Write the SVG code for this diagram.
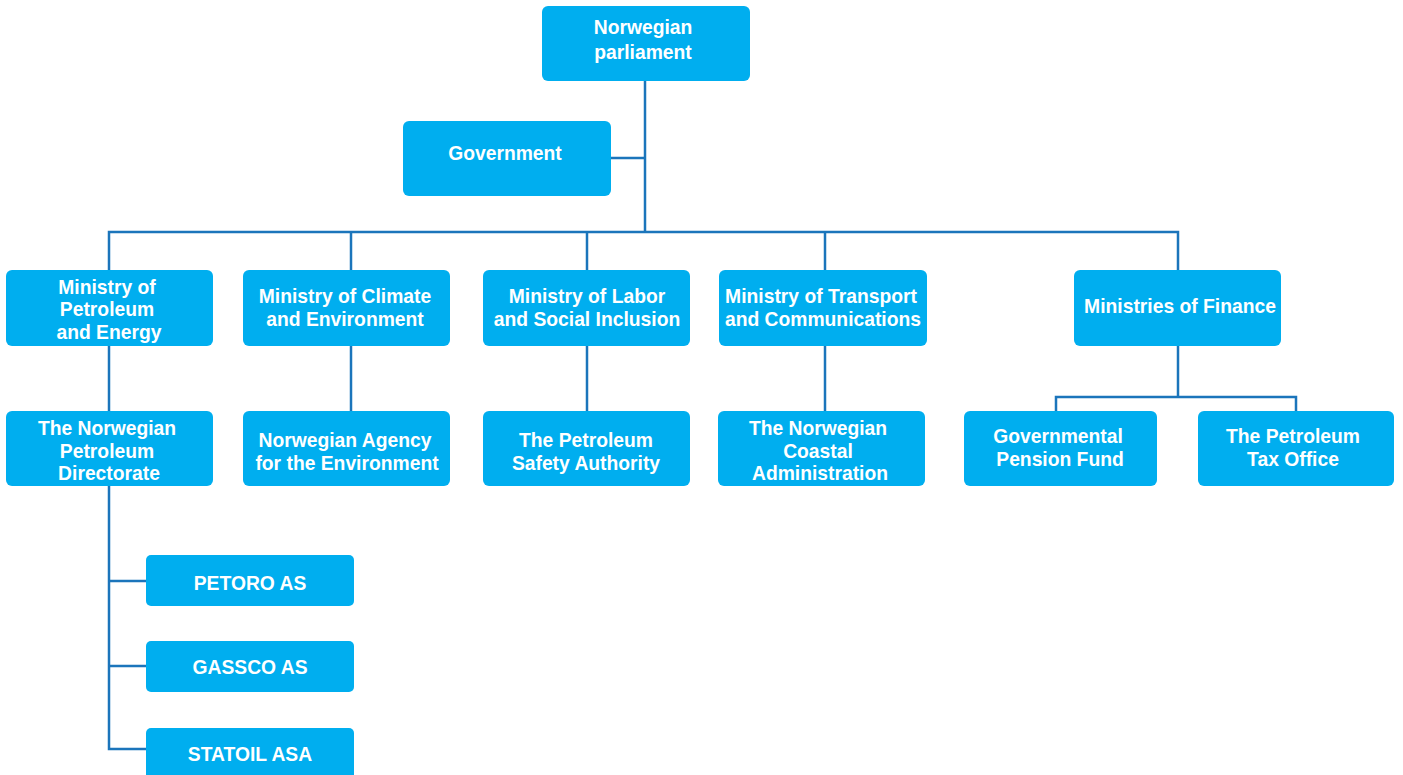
<svg xmlns="http://www.w3.org/2000/svg" width="1403" height="775" viewBox="0 0 1403 775">
<style>
.box{fill:#00AEEF;}
.t{font-family:"Liberation Sans",Arial,Helvetica,sans-serif;font-weight:bold;font-size:19.3px;fill:#FFFFFF;text-anchor:middle;}
.c{fill:none;stroke:#1B75BB;stroke-width:2.5;}
</style>
<rect width="1403" height="775" fill="#FFFFFF"/>
<g id="connectors">
<path class="c" d="M645,81 V232"/>
<path class="c" d="M611,158 H645"/>
<path class="c" d="M109,270 V232 H1178 V270"/>
<path class="c" d="M351,232 V270"/>
<path class="c" d="M587,232 V270"/>
<path class="c" d="M825,232 V270"/>
<path class="c" d="M109,346 V411"/>
<path class="c" d="M351,346 V411"/>
<path class="c" d="M587,346 V411"/>
<path class="c" d="M825,346 V411"/>
<path class="c" d="M1178,346 V397"/>
<path class="c" d="M1056,411 V397 H1296 V411"/>
<path class="c" d="M109,486 V749 H146"/>
<path class="c" d="M109,581 H146"/>
<path class="c" d="M109,666 H146"/>
</g>
<g id="parliament"><rect class="box" x="542" y="6" width="208" height="75" rx="6"/><text class="t" x="643" y="34">Norwegian</text><text class="t" x="643" y="59">parliament</text></g>
<g id="government"><rect class="box" x="403" y="121" width="208" height="75" rx="6"/><text class="t" x="505" y="160">Government</text></g>
<g id="mpe"><rect class="box" x="6" y="270" width="207" height="76" rx="6"/><text class="t" x="107" y="294">Ministry of</text><text class="t" x="107" y="316">Petroleum</text><text class="t" x="109" y="339">and Energy</text></g>
<g id="mce"><rect class="box" x="243" y="270" width="207" height="76" rx="6"/><text class="t" x="345" y="303">Ministry of Climate</text><text class="t" x="345" y="326">and Environment</text></g>
<g id="mlsi"><rect class="box" x="483" y="270" width="207" height="76" rx="6"/><text class="t" x="587" y="303">Ministry of Labor</text><text class="t" x="587" y="326">and Social Inclusion</text></g>
<g id="mtc"><rect class="box" x="719" y="270" width="208" height="76" rx="6"/><text class="t" x="821" y="303">Ministry of Transport</text><text class="t" x="823" y="326">and Communications</text></g>
<g id="mf"><rect class="box" x="1074" y="270" width="207" height="76" rx="6"/><text class="t" x="1180" y="313">Ministries of Finance</text></g>
<g id="npd"><rect class="box" x="6" y="411" width="207" height="75" rx="6"/><text class="t" x="107" y="435">The Norwegian</text><text class="t" x="107" y="458">Petroleum</text><text class="t" x="109" y="480">Directorate</text></g>
<g id="nae"><rect class="box" x="243" y="411" width="207" height="75" rx="6"/><text class="t" x="345" y="447">Norwegian Agency</text><text class="t" x="347" y="470">for the Environment</text></g>
<g id="psa"><rect class="box" x="483" y="411" width="207" height="75" rx="6"/><text class="t" x="586" y="447">The Petroleum</text><text class="t" x="586" y="470">Safety Authority</text></g>
<g id="nca"><rect class="box" x="718" y="411" width="207" height="75" rx="6"/><text class="t" x="818" y="435">The Norwegian</text><text class="t" x="818" y="458">Coastal</text><text class="t" x="820" y="480">Administration</text></g>
<g id="gpf"><rect class="box" x="964" y="411" width="193" height="75" rx="6"/><text class="t" x="1058" y="443">Governmental</text><text class="t" x="1060" y="466">Pension Fund</text></g>
<g id="pto"><rect class="box" x="1198" y="411" width="196" height="75" rx="6"/><text class="t" x="1293" y="443">The Petroleum</text><text class="t" x="1293" y="466">Tax Office</text></g>
<g id="petoro"><rect class="box" x="146" y="555" width="208" height="51" rx="5"/><text class="t" x="250" y="590">PETORO AS</text></g>
<g id="gassco"><rect class="box" x="146" y="641" width="208" height="51" rx="5"/><text class="t" x="250" y="674">GASSCO AS</text></g>
<g id="statoil"><rect class="box" x="146" y="728" width="208" height="55" rx="5"/><text class="t" x="250" y="761">STATOIL ASA</text></g>
</svg>
